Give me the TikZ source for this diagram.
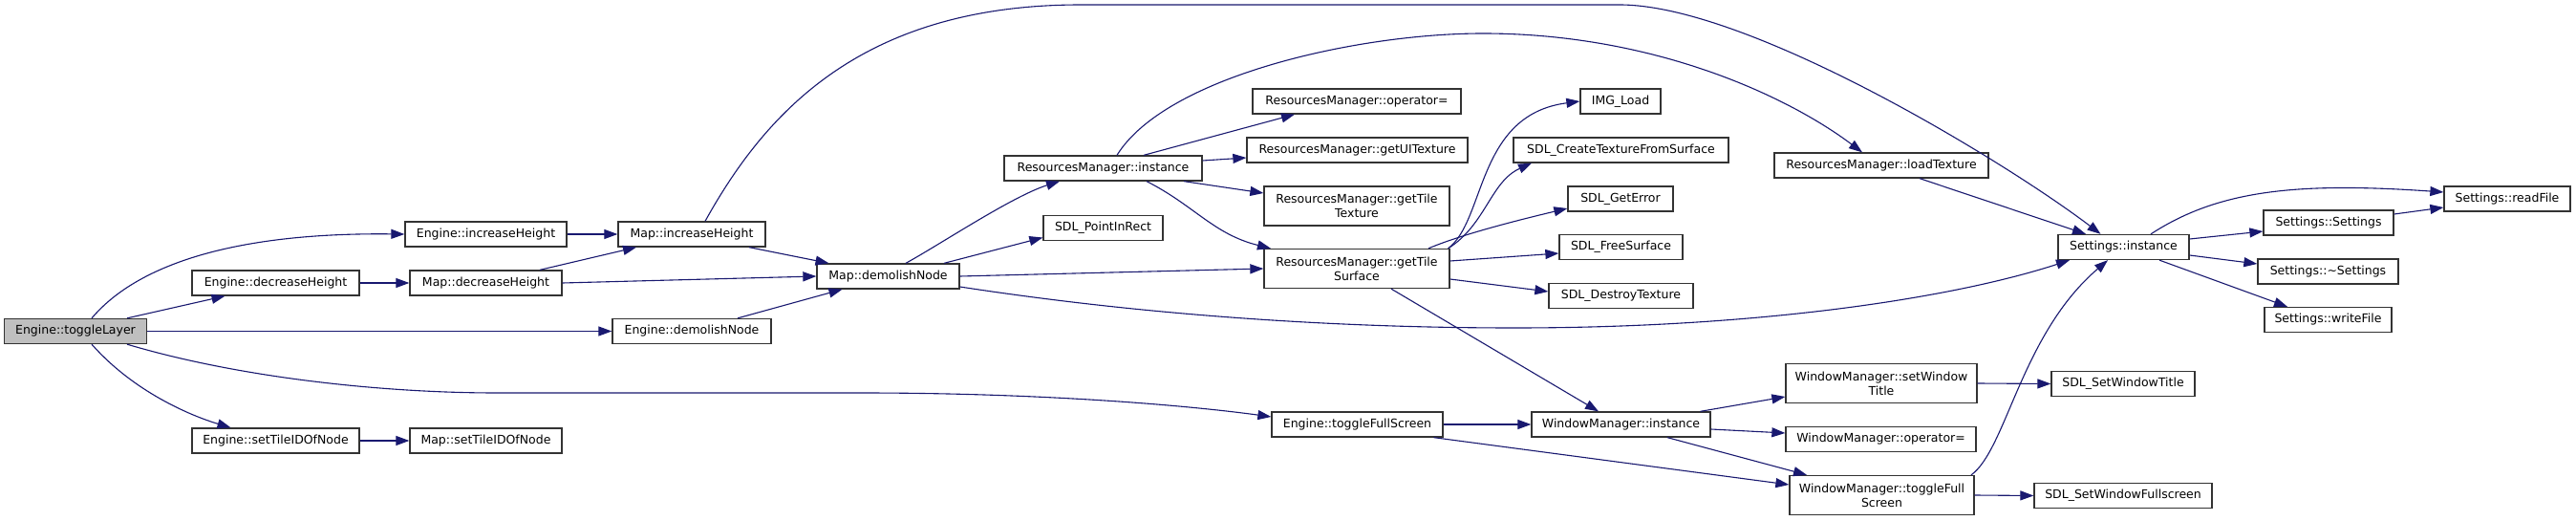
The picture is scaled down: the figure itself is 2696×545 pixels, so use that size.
\documentclass[tikz,border=0pt]{standalone}
\usepackage{fontspec}
\newfontfamily\dejavu{DejaVu Sans}
\usetikzlibrary{arrows.meta}

\definecolor{callblue}{HTML}{191970}
\definecolor{rootgray}{HTML}{BFBFBF}

\tikzset{
  fn/.style={draw=black!80, line width=1.3pt, fill=white, inner sep=0pt,
    minimum height=26pt, align=center},
  fntwo/.style={fn, minimum height=41pt},
  call/.style={callblue, line width=1.1pt, ->},
}

\begin{document}
\begin{tikzpicture}[x=1pt, y=-1pt, >={Triangle[length=14pt, width=10pt]},
    font={\dejavu\fontsize{12.5}{15}\selectfont}]

  % page
  \path[fill=white, use as bounding box] (0,0) rectangle (2696,545);

  % functions, one column per call depth
  \node[fn, fill=rootgray, minimum width=149pt] (tl) at (79,346.5) {Engine::toggleLayer};

  \node[fn, minimum width=175pt] (edh) at (288.5,296) {Engine::decreaseHeight};
  \node[fn, minimum width=175pt] (est) at (288.5,461) {Engine::setTileIDOfNode};

  \node[fn, minimum width=169pt] (eih) at (508.5,245) {Engine::increaseHeight};
  \node[fn, minimum width=159pt] (mdh) at (508.5,296) {Map::decreaseHeight};
  \node[fn, minimum width=159pt] (mst) at (508.5,461) {Map::setTileIDOfNode};

  \node[fn, minimum width=154pt] (mih) at (724,245) {Map::increaseHeight};
  \node[fn, minimum width=166pt] (edn) at (724,346.5) {Engine::demolishNode};

  \node[fn, minimum width=149pt] (mdn) at (929.5,289) {Map::demolishNode};

  \node[fn, minimum width=207pt] (rmi) at (1154.5,176) {ResourcesManager::instance};
  \node[fn, minimum width=125pt] (spr) at (1154.5,238.5) {SDL\_PointInRect};

  \node[fn, minimum width=218pt] (rmo) at (1420,106) {ResourcesManager::operator=};
  \node[fn, minimum width=231pt] (rmu) at (1420.5,157) {ResourcesManager::getUITexture};
  \node[fntwo, minimum width=194pt] (rmt) at (1420,215.5) {ResourcesManager::getTile\\Texture};
  \node[fntwo, minimum width=194pt] (rms) at (1420,281) {ResourcesManager::getTile\\Surface};
  \node[fn, minimum width=179pt] (etf) at (1420.5,444) {Engine::toggleFullScreen};

  \node[fn, minimum width=84pt] (img) at (1696,106) {IMG\_Load};
  \node[fn, minimum width=225pt] (sct) at (1696.5,157) {SDL\_CreateTextureFromSurface};
  \node[fn, minimum width=110pt] (sge) at (1696,208) {SDL\_GetError};
  \node[fn, minimum width=129pt] (sfs) at (1696.5,258.5) {SDL\_FreeSurface};
  \node[fn, minimum width=151pt] (sdt) at (1696.5,309.5) {SDL\_DestroyTexture};
  \node[fn, minimum width=187pt] (wmi) at (1696.5,444) {WindowManager::instance};

  \node[fn, minimum width=224pt] (rml) at (1969,173) {ResourcesManager::loadTexture};
  \node[fntwo, minimum width=200pt] (wst) at (1969,401) {WindowManager::setWindow\\Title};
  \node[fn, minimum width=199pt] (wmo) at (1968.5,459.5) {WindowManager::operator=};
  \node[fntwo, minimum width=193pt] (wtf) at (1969.5,518) {WindowManager::toggleFull\\Screen};

  \node[fn, minimum width=137pt] (sti) at (2222.5,258.5) {Settings::instance};
  \node[fn, minimum width=150pt] (swt) at (2222,401.5) {SDL\_SetWindowTitle};
  \node[fn, minimum width=186pt] (sfull) at (2222,518.5) {SDL\_SetWindowFullscreen};

  \node[fn, minimum width=136pt] (sss) at (2437,233) {Settings::Settings};
  \node[fn, minimum width=147pt] (sds) at (2436.5,284) {Settings::\textasciitilde Settings};
  \node[fn, minimum width=133pt] (swr) at (2436.5,334.5) {Settings::writeFile};

  \node[fn, minimum width=132pt] (srf) at (2624,208) {Settings::readFile};

  % straight calls, side to side
  \foreach \a/\b in {tl/edn, eih/mih, edh/mdh, est/mst, mdh/mdn, mdn/rms,
                     etf/wmi, wst/swt, wtf/sfull}
    \draw[call] (\a.east) -- (\b.west);

  % Engine::toggleLayer
  \draw[call] ([xshift=17pt]tl.north) .. controls (145,275) and (250,243) .. (eih.west);
  \draw[call] ([xshift=54pt]tl.north) -- ([xshift=-53pt]edh.south);
  \draw[call] ([xshift=54pt]tl.south) .. controls (250,395) and (400,411) .. (520,411)
    -- (900,411) .. controls (1100,411) and (1250,425) .. ([yshift=8pt]etf.west);
  \draw[call] ([xshift=17pt]tl.south) .. controls (140,410) and (200,435) .. ([xshift=-47pt]est.north);

  % Map
  \draw[call] ([xshift=56.5pt]mdh.north) -- ([xshift=-58pt]mih.south);
  \draw[call] ([xshift=60pt]mih.south) -- ([xshift=-62pt]mdn.north);
  \draw[call] ([xshift=48pt]edn.north) -- ([xshift=-48pt]mdn.south);
  \draw[call] ([xshift=14pt]mih.north) .. controls (800,120) and (900,5) .. (1131,5)
    -- (1695,5) .. controls (1830,5) and (2100,170) .. ([xshift=-24pt]sti.north);
  \draw[call] ([xshift=18.5pt]mdn.north) .. controls (985,255) and (1060,205) .. ([xshift=-45.5pt]rmi.south);
  \draw[call] ([xshift=58.5pt]mdn.north) -- ([yshift=-10pt]spr.west);
  \draw[call] ([yshift=-11pt]mdn.east) .. controls (1200,330) and (1400,343) .. (1585,343)
    .. controls (1850,343) and (2050,310) .. ([xshift=-56.5pt]sti.south);

  % ResourcesManager
  \draw[call] ([xshift=42.5pt]rmi.north) -- ([xshift=-65pt]rmo.south);
  \draw[call] ([yshift=8pt]rmi.east) -- ([yshift=-8pt]rmu.west);
  \draw[call] ([xshift=84.5pt]rmi.south) -- ([yshift=13.5pt]rmt.west);
  \draw[call] ([xshift=45.5pt]rmi.south) .. controls (1250,215) and (1270,245) .. ([xshift=-90pt]rms.north);
  \draw[call] ([xshift=14.5pt]rmi.north) .. controls (1220,80) and (1420,35) .. (1552,35)
    .. controls (1730,35) and (1870,100) .. ([xshift=-20pt]rml.north);

  \draw[call] ([xshift=-2pt]rms.north east) .. controls (1555,230) and (1545,120) .. (img.west);
  \draw[call] ([xshift=-2pt]rms.north east) .. controls (1555,235) and (1560,190) .. ([xshift=-93.5pt]sct.south);
  \draw[call] ([xshift=75pt]rms.north) .. controls (1530,245) and (1590,230) .. ([yshift=-10pt]sge.west);
  \draw[call] ([yshift=8pt]rms.east) -- ([yshift=-6.5pt]sfs.west);
  \draw[call] ([yshift=-11pt]rms.east) -- ([yshift=4.5pt]sdt.west);
  \draw[call] ([xshift=36pt]rms.south) -- ([xshift=-23.5pt]wmi.north);
  \draw[call] ([xshift=40pt]rml.south) -- ([xshift=-39.5pt]sti.north);

  % Settings
  \draw[call] ([xshift=28.5pt]sti.north) .. controls (2320,200) and (2400,190) .. ([yshift=7pt]srf.west);
  \draw[call] ([yshift=8.5pt]sti.east) -- ([yshift=-9pt]sss.west);
  \draw[call] ([yshift=9pt]sss.east) -- ([yshift=-9pt]srf.west);
  \draw[call] ([yshift=-8.5pt]sti.east) -- ([yshift=8pt]sds.west);
  \draw[call] ([xshift=37.5pt]sti.south) -- ([xshift=-42.5pt]swr.north);

  % WindowManager
  \draw[call] ([xshift=80pt]etf.south) -- ([yshift=11pt]wtf.west);
  \draw[call] ([xshift=83pt]wmi.north) -- ([yshift=-14pt]wst.west);
  \draw[call] ([yshift=-5pt]wmi.east) -- ([yshift=6.5pt]wmo.west);
  \draw[call] ([xshift=48.5pt]wmi.south) -- ([xshift=-78.5pt]wtf.north);
  \draw[call] ([xshift=93.5pt]wtf.north) .. controls (2100,470) and (2115,350) .. ([xshift=-16.5pt]sti.south);

\end{tikzpicture}
\end{document}
